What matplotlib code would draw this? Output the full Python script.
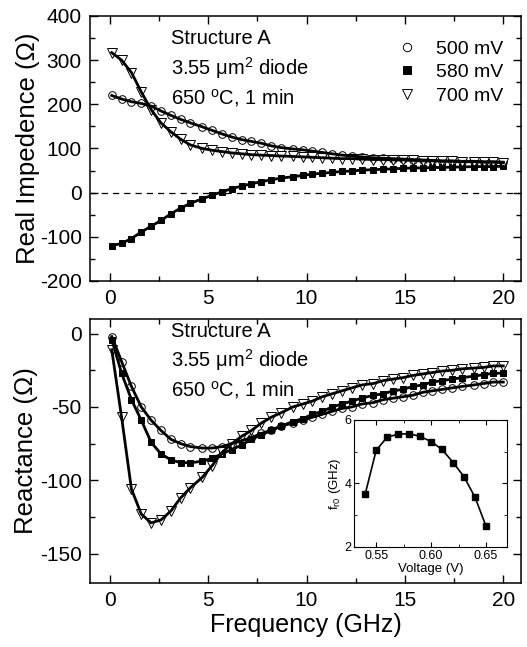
import numpy as np
import matplotlib
matplotlib.use('Agg')
import matplotlib.pyplot as plt
from matplotlib.ticker import MultipleLocator

plt.rcParams['font.family'] = ['Liberation Sans', 'DejaVu Sans']
plt.rcParams['mathtext.fontset'] = 'custom'
plt.rcParams['mathtext.rm'] = 'Liberation Sans'
plt.rcParams['mathtext.it'] = 'Liberation Sans'
plt.rcParams['axes.unicode_minus'] = False

# frequency points (GHz)
freq = [0.1, 0.6, 1.1, 1.6, 2.1, 2.6, 3.1, 3.6, 4.1, 4.7,
        5.2, 5.7, 6.2, 6.7, 7.2, 7.7, 8.2, 8.7, 9.3, 9.8,
        10.3, 10.8, 11.3, 11.8, 12.3, 12.8, 13.4, 13.9, 14.4, 14.9,
        15.4, 15.9, 16.4, 16.9, 17.4, 17.9, 18.5, 19.0, 19.5, 20.0]

# real impedance (Ohm)
real_500 = [220, 212, 206, 202, 196, 185, 175, 166, 158, 149,
            141, 133, 126, 120, 116, 112, 106, 102, 99, 97,
            94, 91, 88, 85, 83, 81, 79, 78, 77, 76,
            75, 74, 73, 72, 72, 71, 71, 70, 70, 69]
real_580 = [-120, -115, -104, -89, -76, -63, -48, -35, -24, -14,
            -6, 2, 9, 15, 20, 25, 29, 33, 36, 39,
            42, 44, 46, 48, 49, 51, 52, 53, 54, 55,
            56, 56, 57, 57, 58, 58, 59, 59, 59, 60]
real_700 = [317, 300, 272, 228, 188, 158, 138, 121, 108, 100,
            96, 93, 90, 88, 86, 85, 84, 83, 82, 81,
            80, 79, 78, 77, 77, 76, 75, 75, 74, 74,
            73, 72, 72, 71, 71, 70, 70, 69, 69, 68]

# reactance (Ohm)
imag_500 = [-2, -19, -36, -50, -59, -66, -72, -75, -77, -78,
            -78, -77, -75, -73, -71, -68, -66, -63, -61, -59,
            -57, -55, -53, -51, -50, -48, -47, -45, -44, -43,
            -42, -40, -39, -38, -37, -36, -35, -34, -33, -33]
imag_580 = [-4, -27, -45, -59, -74, -82, -86, -88, -88, -87,
            -85, -82, -79, -76, -72, -69, -66, -63, -60, -58,
            -55, -53, -50, -48, -46, -44, -42, -41, -39, -38,
            -36, -35, -33, -32, -31, -30, -29, -28, -27, -27]
imag_700 = [-11, -57, -106, -123, -129, -127, -121, -112, -105, -98,
            -90, -81, -75, -70, -66, -61, -57, -54, -50, -48,
            -46, -43, -41, -39, -37, -35, -34, -32, -31, -30,
            -28.5, -27.5, -26.5, -25.5, -25, -24, -23.5, -23, -22, -22]

# inset: resonance frequency vs bias
volt = [0.54, 0.55, 0.56, 0.57, 0.58, 0.59, 0.60, 0.61, 0.62, 0.63, 0.64, 0.65]
fr0 = [3.66, 5.04, 5.46, 5.55, 5.57, 5.48, 5.32, 5.07, 4.66, 4.21, 3.56, 2.65]

labels = ['500 mV', '580 mV', '700 mV']
note = 'Structure A\n3.55 \u03bcm$^2$ diode\n650 $^{\\rm o}$C, 1 min'

fig = plt.figure(figsize=(5.27, 6.47), dpi=100)
ax1 = fig.add_axes([0.171, 0.5657, 0.8176, 0.4096])
ax2 = fig.add_axes([0.171, 0.0989, 0.8176, 0.4081])

lw = 2.0
ms = 5.5
mk = dict(ls='none', mec='k', mew=0.7, zorder=2)


def draw(ax, y5, y58, y7, lab=True):
    ax.plot(freq, y5, marker='o', mfc='white', ms=ms, label=labels[0] if lab else None, **mk)
    ax.plot(freq, y58, marker='s', mfc='k', ms=ms - 0.5, label=labels[1] if lab else None, **mk)
    ax.plot(freq, y7, marker='v', mfc='white', ms=ms + 1, label=labels[2] if lab else None, **mk)
    for y in (y5, y58, y7):
        ax.plot(freq, y, 'k-', lw=lw, zorder=3)


draw(ax1, real_500, real_580, real_700)
ax1.axhline(0, color='k', ls=(0, (5, 4)), lw=0.9, zorder=1)
ax1.set_xlim(-1, 20.9)
ax1.set_ylim(-200, 400)
ax1.yaxis.set_major_locator(MultipleLocator(100))
ax1.yaxis.set_minor_locator(MultipleLocator(50))
ax1.set_ylabel('Real Impedence (\u03a9)', fontsize=18.5, labelpad=0)
ax1.text(0.188, 0.95, note, transform=ax1.transAxes, fontsize=14.5,
         va='top', ha='left', linespacing=1.35)
ax1.legend(loc='upper right', bbox_to_anchor=(1.0, 0.975), frameon=False,
           fontsize=14, handlelength=1.0, handletextpad=1.0,
           labelspacing=0.3, markerscale=1.1)

draw(ax2, imag_500, imag_580, imag_700, lab=False)
ax2.set_xlim(-1, 20.9)
ax2.set_ylim(-170, 10)
ax2.yaxis.set_major_locator(MultipleLocator(50))
ax2.yaxis.set_minor_locator(MultipleLocator(25))
ax2.set_ylabel('Reactance (\u03a9)', fontsize=18.5, labelpad=1)
ax2.set_xlabel('Frequency (GHz)', fontsize=18, labelpad=2)
ax2.text(0.188, 0.99, note, transform=ax2.transAxes, fontsize=14.5,
         va='top', ha='left', linespacing=1.35)

for ax in (ax1, ax2):
    ax.xaxis.set_major_locator(MultipleLocator(5))
    ax.xaxis.set_minor_locator(MultipleLocator(2.5))
    ax.tick_params(which='both', direction='in', top=True, right=True, labelsize=15, pad=6)
    ax.tick_params(which='major', length=6, width=1)
    ax.tick_params(which='minor', length=3.5, width=1)
    for s in ax.spines.values():
        s.set_linewidth(1.1)

ins = fig.add_axes([0.672, 0.1546, 0.290, 0.1963])
ins.plot(volt, fr0, 'k-', lw=1.2, marker='s', ms=4.5, mfc='k', mec='k')
ins.set_xlim(0.53, 0.669)
ins.set_ylim(2, 6)
ins.xaxis.set_major_locator(MultipleLocator(0.05))
ins.xaxis.set_minor_locator(MultipleLocator(0.025))
ins.yaxis.set_major_locator(MultipleLocator(2))
ins.yaxis.set_minor_locator(MultipleLocator(1))
ins.xaxis.set_major_formatter(plt.FormatStrFormatter('%.2f'))
ins.tick_params(which='both', direction='in', top=True, right=True, labelsize=9, pad=2)
ins.tick_params(which='major', length=3.5)
ins.tick_params(which='minor', length=2)
ins.set_xlabel('Voltage (V)', fontsize=9.5, labelpad=1)
ins.set_ylabel('f$_{\\rm r0}$ (GHz)', fontsize=9.5, labelpad=1)
for s in ins.spines.values():
    s.set_linewidth(0.8)

fig.savefig('out.png', dpi=100)
